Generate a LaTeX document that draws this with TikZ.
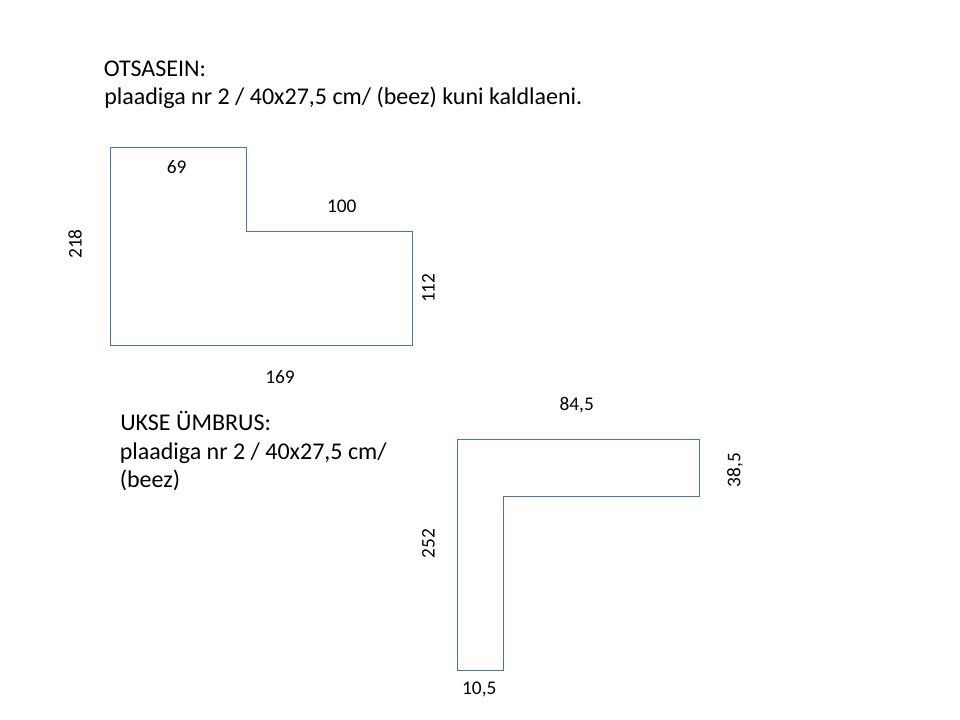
\documentclass[tikz,border=0pt]{standalone}
\usepackage{fontspec}
\setmainfont{Carlito}
\definecolor{shapeblue}{RGB}{68,114,196}
\begin{document}
\begin{tikzpicture}[x=0.75pt,y=-0.75pt,
  outline/.style={draw=shapeblue, line width=0.75pt},
  dim/.style={font=\fontsize{14.5}{17}\selectfont, inner sep=0pt, text=black},
  head/.style={font=\fontsize{18}{21}\selectfont, inner sep=0pt, anchor=base west, text=black}]
\useasboundingbox (0,0) rectangle (960,720);
% headings
\node[head] (t1) at (103.5,76.3) {OTSASEIN:};
\node[head] (t2) at (104,104.3) {plaadiga nr 2 / 40x27,5 cm/ (beez) kuni kaldlaeni.};
\node[head] (u1) at (120,430.7) {UKSE ÜMBRUS:};
\node[head] (u2) at (119.5,459.3) {plaadiga nr 2 / 40x27,5 cm/};
\node[head] (u3) at (119.5,487.5) {(beez)};
% shape 1
\draw[outline] (110.3,147.3) -- (246.3,147.3) -- (246.3,231.3) -- (412.3,231.3) -- (412.3,345) -- (110.3,345) -- cycle;
\node[dim] (l69) at (176.7,166.7) {69};
\node[dim] (l100) at (341.7,206) {100};
\node[dim,rotate=90] (l218) at (75,244) {218};
\node[dim,rotate=90] (l112) at (428.3,288.3) {112};
\node[dim] (l169) at (280,376.7) {169};
% shape 2
\draw[outline] (457.3,439.7) -- (699.3,439.7) -- (699.3,496.3) -- (503.3,496.3) -- (503.3,670) -- (457.3,670) -- cycle;
\node[dim] (l845) at (576.7,405) {84,5};
\node[dim,rotate=90] (l385) at (735,470) {38,5};
\node[dim,rotate=90] (l252) at (428.3,543.3) {252};
\node[dim] (l105) at (479.3,689.3) {10,5};
\end{tikzpicture}
\end{document}
